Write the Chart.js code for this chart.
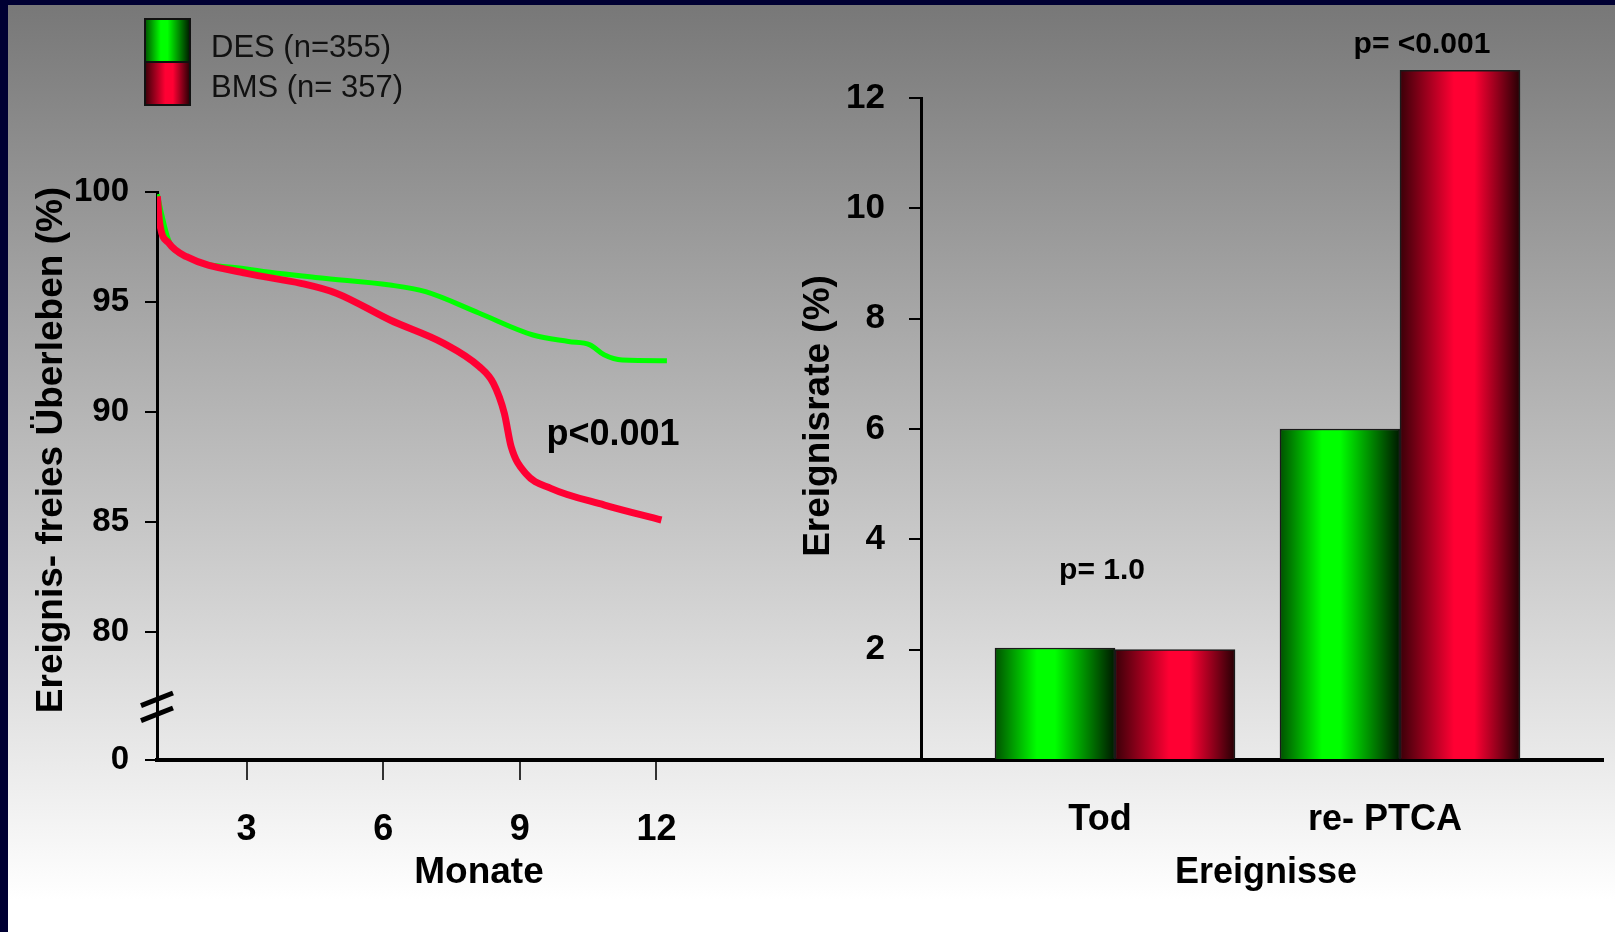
<!DOCTYPE html>
<html>
<head>
<meta charset="utf-8">
<script src="https://cdn.jsdelivr.net/npm/chart.js@4/dist/chart.umd.min.js"></script>
<style>
  html, body { margin: 0; padding: 0; }
  body {
    position: relative;
    width: 1615px;
    height: 932px;
    overflow: hidden;
    background: linear-gradient(to bottom, #777777 0px, #ffffff 900px);
  }
  .edge { position: absolute; background: #000033; z-index: 5; }
  #edge-top { left: 0; top: 0; width: 1615px; height: 5px; }
  #edge-left { left: 0; top: 0; width: 8px; height: 932px; }
  canvas { position: absolute; top: 0; }
  #survival { left: 0; }
  #events { left: 770px; }
</style>
</head>
<body>
<div class="edge" id="edge-top"></div>
<div class="edge" id="edge-left"></div>
<canvas id="survival" width="930" height="932"></canvas>
<canvas id="events" width="845" height="932"></canvas>
<script>
// --- left panel: event-free survival curves (months, %)
const desMonths   = [1.04, 1.13, 1.29, 1.68, 3.0, 4.58, 6.15, 6.93, 8.1, 9.29, 10.07, 10.54, 10.85, 11.25, 12.23];
const desSurvival = [99.9, 99.03, 97.8, 97.06, 96.5, 96.1, 95.77, 95.47, 94.5, 93.5, 93.2, 93.05, 92.6, 92.36, 92.33];
const bmsMonths   = [1.04, 1.09, 1.29, 1.68, 3.0, 4.19, 4.97, 6.15, 7.33, 8.11, 8.42, 8.66, 8.81, 9.13, 9.68, 10.86, 12.11];
const bmsSurvival = [99.8, 98.6, 97.68, 97.06, 96.3, 95.85, 95.4, 94.18, 93.12, 92.06, 91.3, 89.94, 88.42, 87.2, 86.53, 85.77, 85.09];
const monthTicks = [3, 6, 9, 12];
const survivalTicks = [80, 85, 90, 95, 100];
const BREAK_FLOOR = 74.18; // broken axis: bottom of the axis is labelled 0

// --- right panel: event rates (%)
const categories = ['Tod', 're- PTCA'];
const desEvents = [2.03, 6.0];
const bmsEvents = [2.0, 12.5];
const rateTicks = [2, 4, 6, 8, 10, 12];

const seriesLabels = ['DES (n=355)', 'BMS (n= 357)'];
const pTexts = ['p<0.001', 'p= 1.0', 'p= <0.001'];

const FONT = "'Liberation Sans', Arial, sans-serif";
const GREEN_STOPS = [[0, '#005200'], [0.35, '#00ff00'], [0.5, '#00ff00'], [1, '#001800']];
const RED_STOPS = [[0, '#3a0008'], [0.45, '#ff0033'], [0.62, '#ff0033'], [1, '#260004']];
const BAR_W = 120;

function toPoints(xs, ys) {
  return xs.map((x, i) => ({ x: x, y: ys[i] }));
}

function hGradient(ctx, left, width, stops) {
  const g = ctx.createLinearGradient(left, 0, left + width, 0);
  stops.forEach(([o, c]) => g.addColorStop(o, c));
  return g;
}

function barFill(stops, side) {
  return (c) => {
    if (c.type !== 'data' || !c.chart.scales.x || !c.parsed) return stops[1][1];
    const px = c.chart.scales.x.getPixelForValue(c.parsed.x);
    if (!isFinite(px)) return stops[1][1];
    const left = side < 0 ? px - BAR_W : px;
    return hGradient(c.chart.ctx, left, BAR_W, stops);
  };
}

// free text drawn in page coordinates
const notesPlugin = {
  id: 'notes',
  afterDraw(chart, args, opts) {
    const ctx = chart.ctx;
    const ox = chart.canvas.offsetLeft;
    const oy = chart.canvas.offsetTop;
    (opts.items || []).forEach((n) => {
      ctx.save();
      ctx.fillStyle = n.color || '#000';
      ctx.font = n.font;
      ctx.textAlign = n.align || 'center';
      ctx.textBaseline = 'alphabetic';
      ctx.translate(n.x - ox, n.y - oy);
      if (n.rotate) ctx.rotate(n.rotate);
      ctx.fillText(n.text, 0, 0);
      ctx.restore();
    });
  },
};

// legend swatches stacked like the original slide
const swatchPlugin = {
  id: 'swatches',
  afterDraw(chart, args, opts) {
    if (!opts.show) return;
    const ctx = chart.ctx;
    opts.stops.forEach((stops, i) => {
      const top = 19 + i * 43;
      ctx.save();
      ctx.fillStyle = hGradient(ctx, 145, 45, stops);
      ctx.fillRect(145, top, 45, 43);
      ctx.lineWidth = 2;
      ctx.strokeStyle = '#111';
      ctx.strokeRect(145, top, 45, 43);
      ctx.fillStyle = '#111';
      ctx.font = '31px ' + FONT;
      ctx.textAlign = 'left';
      ctx.textBaseline = 'alphabetic';
      ctx.fillText(seriesLabels[i], 211, 57 + i * 40);
      ctx.restore();
    });
  },
};

// two slashes marking the axis break between 0 and 80
const breakPlugin = {
  id: 'axisBreak',
  afterDraw(chart) {
    const y = chart.scales.y;
    const x0 = chart.chartArea.left;
    const yc = y.getPixelForValue(76.6);
    const ctx = chart.ctx;
    ctx.save();
    ctx.strokeStyle = '#000';
    ctx.lineWidth = 5;
    [-7.5, 7.5].forEach((d) => {
      ctx.beginPath();
      ctx.moveTo(x0 - 16, yc + d + 6.3);
      ctx.lineTo(x0 + 16, yc + d - 6.3);
      ctx.stroke();
    });
    ctx.restore();
  },
};

Chart.register(notesPlugin, swatchPlugin);

const survivalChart = new Chart(document.getElementById('survival'), {
  type: 'line',
  data: {
    datasets: [
      {
        label: seriesLabels[0],
        data: toPoints(desMonths, desSurvival),
        borderColor: '#00ff00',
        borderWidth: 5,
        order: 2,
      },
      {
        label: seriesLabels[1],
        data: toPoints(bmsMonths, bmsSurvival),
        borderColor: '#ff0033',
        borderWidth: 7,
        order: 1,
      },
    ],
  },
  options: {
    responsive: false,
    animation: false,
    layout: { padding: { top: 192, right: 9, left: 0, bottom: 0 } },
    elements: {
      point: { radius: 0 },
      line: { cubicInterpolationMode: 'monotone', fill: false, borderCapStyle: 'butt' },
    },
    plugins: {
      legend: { display: false },
      tooltip: { enabled: false },
      swatches: { show: true, stops: [GREEN_STOPS, RED_STOPS] },
      notes: {
        items: [
          { text: pTexts[0], x: 613, y: 445, font: 'bold 36px ' + FONT },
          { text: 'Monate', x: 479, y: 883, font: 'bold 37px ' + FONT },
          { text: 'Ereignis- freies Überleben (%)', x: 62, y: 450, rotate: -Math.PI / 2, font: 'bold 37px ' + FONT },
        ],
      },
    },
    scales: {
      x: {
        type: 'linear',
        min: 1.032,
        max: 17.81,
        afterBuildTicks: (s) => { s.ticks = monthTicks.map((v) => ({ value: v })); },
        afterFit: (s) => { s.height = 172; },
        grid: { drawOnChartArea: false, tickLength: 20, color: '#333', lineWidth: 2 },
        border: { color: '#000', width: 4 },
        ticks: { color: '#000', font: { family: FONT, size: 36, weight: 'bold' }, padding: 28, maxRotation: 0, autoSkip: false },
      },
      y: {
        type: 'linear',
        min: BREAK_FLOOR,
        max: 100,
        afterBuildTicks: (s) => { s.ticks = [BREAK_FLOOR, ...survivalTicks].map((v) => ({ value: v })); },
        afterFit: (s) => { s.width = 157; },
        grid: { drawOnChartArea: false, tickLength: 12, color: '#000', lineWidth: 2 },
        border: { color: '#000', width: 3 },
        ticks: {
          color: '#000',
          font: { family: FONT, size: 33, weight: 'bold' },
          padding: 16,
          autoSkip: false,
          callback: (v) => (v === BREAK_FLOOR ? '0' : v),
        },
      },
    },
  },
  plugins: [breakPlugin],
});

const eventsChart = new Chart(document.getElementById('events'), {
  type: 'bar',
  data: {
    datasets: [
      {
        label: 'DES',
        data: toPoints([1, 2], desEvents),
        backgroundColor: barFill(GREEN_STOPS, -1),
        clip: false,
      },
      {
        label: 'BMS',
        data: toPoints([1, 2], bmsEvents),
        backgroundColor: barFill(RED_STOPS, 1),
        clip: false,
      },
    ],
  },
  options: {
    responsive: false,
    animation: false,
    layout: { padding: { top: 98, right: 12, left: 0, bottom: 0 } },
    datasets: { bar: { barThickness: BAR_W, borderWidth: 1.5, borderColor: '#1a1a1a' } },
    plugins: {
      legend: { display: false },
      tooltip: { enabled: false },
      notes: {
        items: [
          { text: pTexts[1], x: 1102, y: 579, font: 'bold 30px ' + FONT },
          { text: pTexts[2], x: 1422, y: 53, font: 'bold 30px ' + FONT },
          { text: 'Ereignisse', x: 1266, y: 883, font: 'bold 36px ' + FONT },
          { text: 'Ereignisrate (%)', x: 829, y: 416, rotate: -Math.PI / 2, font: 'bold 37px ' + FONT },
        ],
      },
    },
    scales: {
      x: {
        type: 'linear',
        offset: false,
        min: 0.3193,
        max: 2.7123,
        afterBuildTicks: (s) => { s.ticks = categories.map((c, i) => ({ value: i + 1 })); },
        afterFit: (s) => { s.height = 172; },
        grid: { display: false },
        border: { color: '#000', width: 4 },
        z: 1,
        ticks: {
          color: '#000',
          font: { family: FONT, size: 36, weight: 'bold' },
          padding: 30,
          labelOffset: -15,
          maxRotation: 0,
          autoSkip: false,
          callback: (v) => categories[v - 1],
        },
      },
      y: {
        type: 'linear',
        min: 0,
        max: 12,
        afterBuildTicks: (s) => { s.ticks = [0, ...rateTicks].map((v) => ({ value: v })); },
        afterFit: (s) => { s.width = 151; },
        grid: { drawOnChartArea: false, tickLength: 12, color: '#000', lineWidth: 2 },
        border: { color: '#000', width: 3 },
        ticks: {
          color: '#000',
          font: { family: FONT, size: 35, weight: 'bold' },
          padding: 24,
          autoSkip: false,
          callback: (v) => (v === 0 ? '' : v),
        },
      },
    },
  },
});
</script>
</body>
</html>
